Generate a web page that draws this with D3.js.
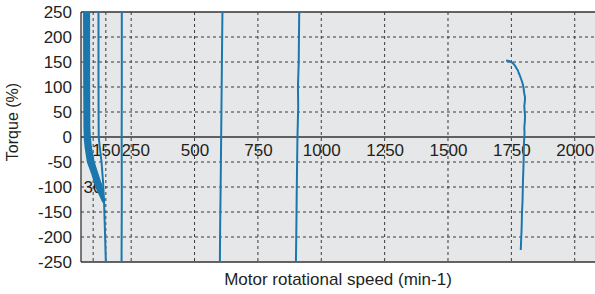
<!DOCTYPE html>
<html>
<head>
<meta charset="utf-8">
<script src="https://cdn.jsdelivr.net/npm/d3@7"></script>
<style>
  body { margin: 0; background: #fff; }
  svg { display: block; font-family: "Liberation Sans", Arial, sans-serif; }
</style>
</head>
<body>
<svg id="chart" width="595" height="294"></svg>
<script>
// values: [speed min-1, torque %]
const torqueTicks = [-250, -200, -150, -100, -50, 0, 50, 100, 150, 200, 250]
const speedGrid = [100, 150, 250, 500, 750, 1000, 1250, 1500, 1750, 2000]
const speedLabels = [150, 250, 500, 750, 1000, 1250, 1500, 1750, 2000]

const band30a = [[64, 250], [64.5, 120], [65.5, 20], [67, -5], [70, -20], [79, -50], [97, -75], [112, -100], [140, -130]]
const band30b = [[68, 250], [68, 120], [69, 20], [70, -2], [73, -20], [83, -50], [100, -75], [116, -100], [141, -130]]
const band30c = [[72, 250], [72, 120], [73, 20], [74, 0], [78, -20], [88, -50], [105, -75], [121, -100], [141, -130]]
const band30d = [[76, 250], [76, 120], [77, 20], [78, 0], [82, -20], [93, -50], [110, -75], [126, -100], [142, -130]]
const band30e = [[80, 250], [80, 120], [81, 20], [82, 0], [86, -20], [97, -50], [114, -75], [130, -100], [142, -130]]
const band30f = [[84, 250], [84, 120], [85, 20], [87, 0], [91, -20], [102, -50], [118, -75], [134, -100], [143, -130]]
const curve150 = [[121, 250], [121, 120], [121.5, 30], [122, 0], [126, -20], [133, -50], [139, -90], [143, -130], [146, -180], [150, -250]]
const curve250 = [[213, 250], [213, 100], [212.5, 0], [213, -120], [212, -250]]
const curve600 = [[610, 250], [609, 200], [608, 150], [606, 50], [605, 0], [603, -100], [602, -140], [601, -180], [600, -250]]
const curve900 = [[913, 250], [912, 200], [911, 150], [908, 100], [909, 60], [906, 0], [904, -80], [903, -120], [902, -170], [900, -250]]
const curve1800 = [[1729, 153], [1740, 152], [1753, 149], [1761, 145], [1765, 142], [1772, 136], [1775, 134], [1779, 128],
  [1782, 125], [1787, 118], [1792, 111], [1796, 104], [1798, 98], [1801, 87], [1804, 79], [1803, 70], [1801, 62],
  [1802, 54], [1804, 42], [1803, 30], [1801, 18], [1802, 8], [1800, -10], [1799, -30], [1798, -55], [1796, -86],
  [1795, -108], [1794, -130], [1792, -150], [1791, -173], [1790, -190], [1789, -200], [1788, -215], [1787, -226]]

const curves = [band30a, band30b, band30c, band30d, band30e, band30f, curve150, curve250, curve600, curve900, curve1800]

let margin = { top: 12, right: 0, bottom: 32, left: 81 }
let width = 595
let height = 294

let svg = d3.select('#chart')

let x = d3.scaleLinear()
  .domain([52, 2080])
  .range([margin.left, width - margin.right])

let y = d3.scaleLinear()
  .domain([-250, 250])
  .range([height - margin.bottom, margin.top])

// plot background
svg.append('rect')
  .attr('x', x(52))
  .attr('y', y(250))
  .attr('width', x(2080) - x(52))
  .attr('height', y(-250) - y(250))
  .attr('fill', '#e6e7e8')

// dashed grid
svg.append('g')
  .selectAll('line')
  .data(torqueTicks.filter(d => d != 0 && d != 250 && d != -250))
  .enter().append('line')
  .attr('x1', x(52)).attr('x2', x(2080))
  .attr('y1', d => y(d)).attr('y2', d => y(d))
  .attr('stroke', '#3a3a3a')
  .attr('stroke-width', 1)
  .attr('stroke-dasharray', '3,3')

svg.append('g')
  .selectAll('line')
  .data(speedGrid)
  .enter().append('line')
  .attr('x1', d => x(d)).attr('x2', d => x(d))
  .attr('y1', y(250)).attr('y2', y(-250))
  .attr('stroke', '#3a3a3a')
  .attr('stroke-width', 1)
  .attr('stroke-dasharray', '3,3')

// frame and zero line
let frame = svg.append('g').attr('stroke', '#333').attr('stroke-width', 1.3)
frame.append('line').attr('x1', x(52)).attr('x2', x(2080)).attr('y1', y(250)).attr('y2', y(250))
frame.append('line').attr('x1', x(52)).attr('x2', x(2080)).attr('y1', y(-250)).attr('y2', y(-250))
frame.append('line').attr('x1', x(52)).attr('x2', x(52)).attr('y1', y(250)).attr('y2', y(-250))
frame.append('line').attr('x1', x(52)).attr('x2', x(2080)).attr('y1', y(0)).attr('y2', y(0))

// y axis labels
let yAxis = svg.append('g')
  .attr('transform', `translate(${margin.left},0)`)
  .call(d3.axisLeft(y).tickValues(torqueTicks).tickFormat(d => String(d)).tickSize(0).tickPadding(9))
yAxis.select('.domain').remove()
yAxis.selectAll('text')
  .style('font-size', '17px')
  .attr('fill', '#231f20')

// x labels sit on the zero line
let xAxis = svg.append('g')
  .attr('transform', `translate(0,${y(0)})`)
  .call(d3.axisBottom(x).tickValues(speedLabels).tickFormat(d => String(d)).tickSize(0).tickPadding(7))
xAxis.select('.domain').remove()
xAxis.selectAll('text')
  .style('font-size', '17px')
  .attr('fill', '#231f20')
  .attr('dx', d => d == 250 ? 4 : 0)

svg.append('text')
  .attr('x', x(62))
  .attr('y', y(-101))
  .attr('dominant-baseline', 'central')
  .style('font-size', '17px')
  .attr('fill', '#231f20')
  .text('30')

// curves
let line = d3.line()
  .x(d => x(d[0]))
  .y(d => y(d[1]))

svg.append('g')
  .selectAll('path')
  .data(curves)
  .enter().append('path')
  .attr('d', line)
  .attr('fill', 'none')
  .attr('stroke', '#1a78ae')
  .attr('stroke-width', 2)
  .attr('stroke-linejoin', 'round')

// axis titles
svg.append('text')
  .attr('x', 338)
  .attr('y', 285)
  .attr('text-anchor', 'middle')
  .style('font-size', '17px')
  .attr('fill', '#231f20')
  .text('Motor rotational speed (min-1)')

svg.append('text')
  .attr('transform', 'translate(18,122) rotate(-90)')
  .attr('text-anchor', 'middle')
  .style('font-size', '16px')
  .attr('fill', '#231f20')
  .text('Torque (%)')
</script>
</body>
</html>
